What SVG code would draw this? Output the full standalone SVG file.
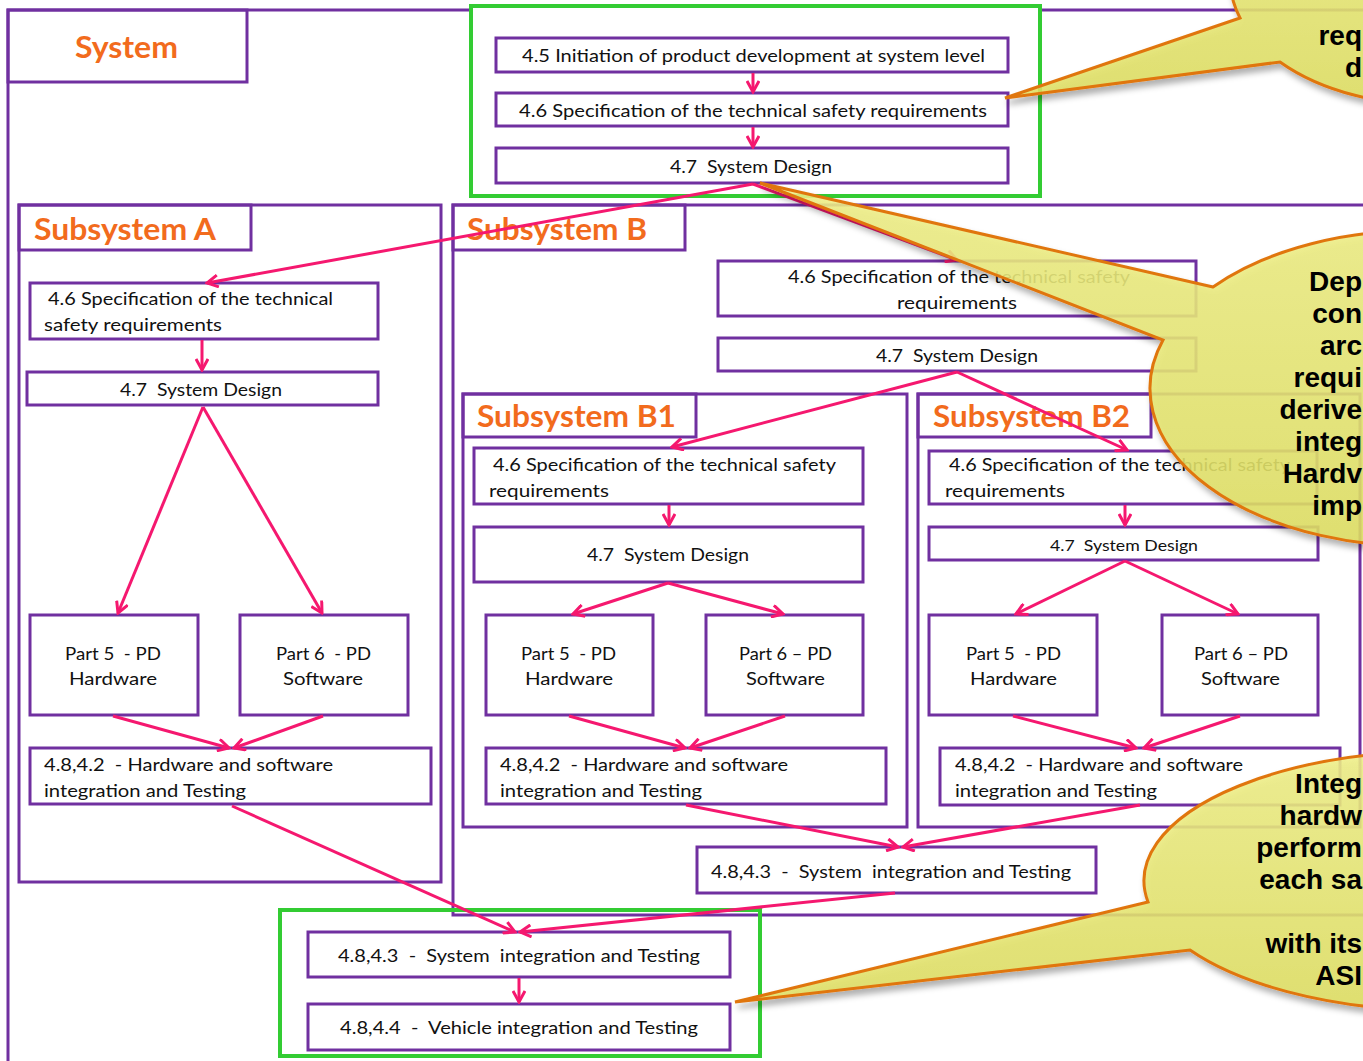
<svg xmlns="http://www.w3.org/2000/svg" width="1363" height="1061" viewBox="0 0 1363 1061">
<style>
.frame{fill:none;stroke:#7030a0;stroke-width:3}
.box{fill:#ffffff;stroke:#7030a0;stroke-width:3}
.green{stroke:#33cc33;stroke-width:4}
.title{font-family:Lato,"Liberation Sans",sans-serif;font-weight:bold;font-size:31px;fill:#f26b1d;white-space:pre}
.t{font-family:Lato,"Liberation Sans",sans-serif;font-size:18px;fill:#111;white-space:pre}
.s{font-size:16px}
.con path{fill:none;stroke:#f5186f;stroke-width:3;marker-end:url(#ah)}
.bub{fill:url(#yg);fill-opacity:0.86;stroke:#e0760f;stroke-width:3;filter:url(#sh)}
.bt{font-family:"Liberation Sans",Arial,sans-serif;font-weight:bold;font-size:28px;fill:#000;white-space:pre;text-anchor:end}
</style>
<defs>
<marker id="ah" viewBox="0 0 14 14" refX="12" refY="7" markerWidth="14" markerHeight="14" markerUnits="userSpaceOnUse" orient="auto">
<path d="M1,1 L12,7 L1,13" fill="none" stroke="#f5186f" stroke-width="3"/>
</marker>
<linearGradient id="yg" x1="0" y1="0" x2="0" y2="1">
<stop offset="0" stop-color="#f0f088"/>
<stop offset="1" stop-color="#e0e062"/>
</linearGradient>
<filter id="sh" x="-20%" y="-20%" width="140%" height="140%">
<feDropShadow dx="3" dy="5" stdDeviation="3" flood-color="#000" flood-opacity="0.35"/>
</filter>
</defs>
<rect width="1363" height="1061" fill="#ffffff"/>

<g id="system-frame">
<path class="frame" d="M1380,10 H8 V1070"/>
<rect class="frame" x="8" y="10" width="239" height="72"/>
<text class="title" x="75" y="58" textLength="103" lengthAdjust="spacingAndGlyphs">System</text>
</g>

<g id="system-level">
<rect x="471" y="6" width="569" height="190" fill="#ffffff" class="green"/>
<g id="sys-45"><rect class="box" x="496" y="38" width="512" height="34"/>
<text class="t" x="522" y="62" textLength="463" lengthAdjust="spacingAndGlyphs">4.5 Initiation of product development at system level</text></g>
<g id="sys-46"><rect class="box" x="496" y="93" width="512" height="33"/>
<text class="t" x="519" y="117" textLength="468" lengthAdjust="spacingAndGlyphs">4.6 Specification of the technical safety requirements</text></g>
<g id="sys-47"><rect class="box" x="496" y="148" width="512" height="35"/>
<text class="t" x="670" y="173" textLength="162" lengthAdjust="spacingAndGlyphs">4.7  System Design</text></g>
</g>

<g id="subsystem-a">
<rect class="frame" x="19" y="205" width="422" height="677"/>
<rect class="frame" x="19" y="205" width="232" height="45"/>
<text class="title" x="34" y="240" textLength="182" lengthAdjust="spacingAndGlyphs">Subsystem A</text>
<g id="a-46"><rect class="box" x="30" y="283" width="348" height="56"/>
<text class="t" x="48" y="305" textLength="285" lengthAdjust="spacingAndGlyphs">4.6 Specification of the technical</text>
<text class="t" x="44" y="331" textLength="178" lengthAdjust="spacingAndGlyphs">safety requirements</text></g>
<g id="a-47"><rect class="box" x="27" y="372" width="351" height="33"/>
<text class="t" x="120" y="396" textLength="162" lengthAdjust="spacingAndGlyphs">4.7  System Design</text></g>
<g id="a-p5"><rect class="box" x="30" y="615" width="168" height="100"/>
<text class="t" x="65" y="660" textLength="96" lengthAdjust="spacingAndGlyphs">Part 5  - PD</text>
<text class="t" x="69" y="685" textLength="88" lengthAdjust="spacingAndGlyphs">Hardware</text></g>
<g id="a-p6"><rect class="box" x="240" y="615" width="168" height="100"/>
<text class="t" x="276" y="660" textLength="95" lengthAdjust="spacingAndGlyphs">Part 6  - PD</text>
<text class="t" x="283" y="685" textLength="80" lengthAdjust="spacingAndGlyphs">Software</text></g>
<g id="a-482"><rect class="box" x="30" y="748" width="401" height="56"/>
<text class="t" x="44" y="771" textLength="289" lengthAdjust="spacingAndGlyphs">4.8,4.2  - Hardware and software</text>
<text class="t" x="44" y="797" textLength="202" lengthAdjust="spacingAndGlyphs">integration and Testing</text></g>
</g>

<g id="subsystem-b">
<path class="frame" d="M1380,205 H453 V915 H1380"/>
<rect class="frame" x="453" y="205" width="232" height="45"/>
<text class="title" x="467" y="240" textLength="180" lengthAdjust="spacingAndGlyphs">Subsystem B</text>
<g id="b-46"><rect class="box" x="718" y="261" width="478" height="55"/>
<text class="t" x="788" y="283" textLength="342" lengthAdjust="spacingAndGlyphs">4.6 Specification of the technical safety</text>
<text class="t" x="897" y="309" textLength="120" lengthAdjust="spacingAndGlyphs">requirements</text></g>
<g id="b-47"><rect class="box" x="718" y="338" width="478" height="33"/>
<text class="t" x="876" y="362" textLength="162" lengthAdjust="spacingAndGlyphs">4.7  System Design</text></g>
<g id="b-483"><rect class="box" x="697" y="847" width="399" height="46"/>
<text class="t" x="711" y="878" textLength="360" lengthAdjust="spacingAndGlyphs">4.8,4.3  -  System  integration and Testing</text></g>
</g>

<g id="subsystem-b1">
<rect class="frame" x="463" y="394" width="444" height="433"/>
<rect class="frame" x="463" y="394" width="233" height="43"/>
<text class="title" x="477" y="427" textLength="199" lengthAdjust="spacingAndGlyphs">Subsystem B1</text>
<g id="b1-46"><rect class="box" x="474" y="448" width="389" height="56"/>
<text class="t" x="493" y="471" textLength="343" lengthAdjust="spacingAndGlyphs">4.6 Specification of the technical safety</text>
<text class="t" x="489" y="497" textLength="120" lengthAdjust="spacingAndGlyphs">requirements</text></g>
<g id="b1-47"><rect class="box" x="474" y="527" width="389" height="55"/>
<text class="t" x="587" y="561" textLength="162" lengthAdjust="spacingAndGlyphs">4.7  System Design</text></g>
<g id="b1-p5"><rect class="box" x="486" y="615" width="167" height="100"/>
<text class="t" x="521" y="660" textLength="95" lengthAdjust="spacingAndGlyphs">Part 5  - PD</text>
<text class="t" x="525" y="685" textLength="88" lengthAdjust="spacingAndGlyphs">Hardware</text></g>
<g id="b1-p6"><rect class="box" x="706" y="615" width="157" height="100"/>
<text class="t" x="739" y="660" textLength="93" lengthAdjust="spacingAndGlyphs">Part 6 – PD</text>
<text class="t" x="746" y="685" textLength="79" lengthAdjust="spacingAndGlyphs">Software</text></g>
<g id="b1-482"><rect class="box" x="486" y="748" width="400" height="56"/>
<text class="t" x="500" y="771" textLength="288" lengthAdjust="spacingAndGlyphs">4.8,4.2  - Hardware and software</text>
<text class="t" x="500" y="797" textLength="202" lengthAdjust="spacingAndGlyphs">integration and Testing</text></g>
</g>

<g id="subsystem-b2">
<rect class="frame" x="918" y="394" width="442" height="433"/>
<rect class="frame" x="918" y="394" width="233" height="43"/>
<text class="title" x="933" y="427" textLength="197" lengthAdjust="spacingAndGlyphs">Subsystem B2</text>
<g id="b2-46"><rect class="box" x="929" y="451" width="388" height="53"/>
<text class="t" x="949" y="471" textLength="341" lengthAdjust="spacingAndGlyphs">4.6 Specification of the technical safety</text>
<text class="t" x="945" y="497" textLength="120" lengthAdjust="spacingAndGlyphs">requirements</text></g>
<g id="b2-47"><rect class="box" x="929" y="527" width="389" height="33"/>
<text class="t s" x="1050" y="551" textLength="148" lengthAdjust="spacingAndGlyphs">4.7  System Design</text></g>
<g id="b2-p5"><rect class="box" x="929" y="615" width="168" height="100"/>
<text class="t" x="966" y="660" textLength="95" lengthAdjust="spacingAndGlyphs">Part 5  - PD</text>
<text class="t" x="970" y="685" textLength="87" lengthAdjust="spacingAndGlyphs">Hardware</text></g>
<g id="b2-p6"><rect class="box" x="1162" y="615" width="156" height="100"/>
<text class="t" x="1194" y="660" textLength="94" lengthAdjust="spacingAndGlyphs">Part 6 – PD</text>
<text class="t" x="1201" y="685" textLength="79" lengthAdjust="spacingAndGlyphs">Software</text></g>
<g id="b2-482"><rect class="box" x="940" y="748" width="400" height="57"/>
<text class="t" x="955" y="771" textLength="288" lengthAdjust="spacingAndGlyphs">4.8,4.2  - Hardware and software</text>
<text class="t" x="955" y="797" textLength="202" lengthAdjust="spacingAndGlyphs">integration and Testing</text></g>
</g>

<g id="vehicle-level">
<rect x="280" y="910" width="480" height="146" fill="none" class="green"/>
<g id="v-483"><rect class="box" x="308" y="932" width="422" height="45"/>
<text class="t" x="338" y="962" textLength="362" lengthAdjust="spacingAndGlyphs">4.8,4.3  -  System  integration and Testing</text></g>
<g id="v-484"><rect class="box" x="308" y="1004" width="422" height="46"/>
<text class="t" x="340" y="1034" textLength="358" lengthAdjust="spacingAndGlyphs">4.8,4.4  -  Vehicle integration and Testing</text></g>
</g>

<g id="connectors" class="con">
<path d="M753,73 L753,92"/>
<path d="M753,127 L753,147"/>
<path d="M753,184 L207,283"/>
<path d="M753,184 L957,260"/>
<path d="M202,340 L202,370"/>
<path d="M203,407 L118,613"/>
<path d="M203,407 L322,613"/>
<path d="M113,716 L229,748"/>
<path d="M323,716 L234,748"/>
<path d="M232,806 L515,932"/>
<path d="M957,372 L672,447"/>
<path d="M957,372 L1127,450"/>
<path d="M669,505 L669,525"/>
<path d="M668,583 L573,614"/>
<path d="M668,583 L783,614"/>
<path d="M569,716 L685,748"/>
<path d="M785,716 L690,748"/>
<path d="M686,805 L898,847"/>
<path d="M1125,505 L1125,525"/>
<path d="M1125,561 L1016,614"/>
<path d="M1125,561 L1238,614"/>
<path d="M1013,716 L1136,748"/>
<path d="M1240,716 L1144,748"/>
<path d="M1140,805 L903,847"/>
<path d="M895,893 L520,932"/>
<path d="M519,978 L519,1002"/>
</g>

<g id="callout-1">
<path class="bub" d="M1240,18 L1005,98 L1280,62 A200,125 0 1 0 1240,18 Z"/>
<text class="bt" x="1362" y="45">req</text>
<text class="bt" x="1362" y="77">d</text>
</g>
<g id="callout-2">
<path class="bub" d="M1213,287 L760,183 L1163,340 A270,158 0 1 0 1213,287 Z"/>
<text class="bt" x="1362" y="291">Dep</text>
<text class="bt" x="1362" y="323">con</text>
<text class="bt" x="1362" y="355">arc</text>
<text class="bt" x="1362" y="387">requi</text>
<text class="bt" x="1362" y="419">derive</text>
<text class="bt" x="1362" y="451">integ</text>
<text class="bt" x="1362" y="483">Hardv</text>
<text class="bt" x="1362" y="515">imp</text>
</g>
<g id="callout-3">
<path class="bub" d="M1148,902 L735,1002 L1190,950 A300,130 0 1 0 1148,902 Z"/>
<text class="bt" x="1362" y="793">Integ</text>
<text class="bt" x="1362" y="825">hardw</text>
<text class="bt" x="1362" y="857">perform</text>
<text class="bt" x="1362" y="889">each sa</text>
<text class="bt" x="1362" y="953">with its</text>
<text class="bt" x="1362" y="985">ASI</text>
</g>
</svg>
